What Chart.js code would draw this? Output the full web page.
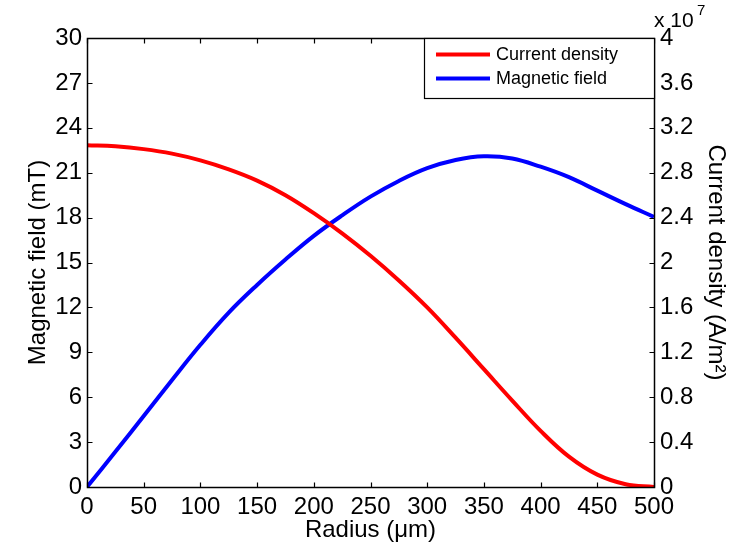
<!DOCTYPE html>
<html>
<head>
<meta charset="utf-8">
<title>Current density and magnetic field vs radius</title>
<script src="https://cdn.jsdelivr.net/npm/chart.js@4.4.1/dist/chart.umd.min.js"></script>
<style>
  html, body { margin: 0; padding: 0; background: #fff; }
</style>
</head>
<body>
<canvas id="fieldChart" width="735" height="542"></canvas>
<script>
// radius samples (um)
const radius = [0, 25, 50, 75, 100, 125, 150, 175, 200, 225, 250, 275, 300, 325, 350, 375, 400, 425, 450, 475, 500];
// current density, in units of 10^7 A/m^2
const currentDensity = [3.045, 3.035, 3.01, 2.97, 2.91, 2.83, 2.73, 2.60, 2.44, 2.26, 2.06, 1.84, 1.60, 1.33, 1.05, 0.77, 0.50, 0.27, 0.11, 0.025, 0];
// magnetic field (mT)
const magneticField = [0, 2.35, 4.75, 7.15, 9.5, 11.65, 13.5, 15.2, 16.78, 18.15, 19.4, 20.45, 21.3, 21.85, 22.1, 21.95, 21.4, 20.7, 19.8, 18.9, 18.05];

const radiusTicks = [0, 50, 100, 150, 200, 250, 300, 350, 400, 450, 500];
const fieldTicks = [0, 3, 6, 9, 12, 15, 18, 21, 24, 27, 30];
const densityTicks = [0, 0.4, 0.8, 1.2, 1.6, 2, 2.4, 2.8, 3.2, 3.6, 4];

const FONT = '"Liberation Sans", Arial, Helvetica, sans-serif';
const fixedTicks = list => scale => { scale.ticks = list.map(v => ({ value: v })); };

// box frame, inward tick marks, legend and the x10^7 exponent
const framePlugin = {
    id: 'frame',
    afterDraw(chart) {
        const ctx = chart.ctx;
        const a = chart.chartArea;
        const L = Math.round(a.left) + 0.5, R = Math.round(a.right) + 0.5;
        const T = Math.round(a.top) + 0.5, B = Math.round(a.bottom) + 0.5;
        const tick = 5;
        ctx.save();
        ctx.strokeStyle = '#000';
        ctx.lineWidth = 1.5;
        ctx.strokeRect(L, T, R - L, B - T);

        ctx.lineWidth = 1.2;
        ctx.beginPath();
        const sx = chart.scales.x;
        sx.ticks.forEach(t => {
            const px = Math.round(sx.getPixelForValue(t.value)) + 0.5;
            ctx.moveTo(px, B); ctx.lineTo(px, B - tick);
            ctx.moveTo(px, T); ctx.lineTo(px, T + tick);
        });
        const sy = chart.scales.y;
        sy.ticks.forEach(t => {
            const py = Math.round(sy.getPixelForValue(t.value)) + 0.5;
            ctx.moveTo(L, py); ctx.lineTo(L + tick, py);
        });
        const sy2 = chart.scales.y2;
        sy2.ticks.forEach(t => {
            const py = Math.round(sy2.getPixelForValue(t.value)) + 0.5;
            ctx.moveTo(R, py); ctx.lineTo(R - tick, py);
        });
        ctx.stroke();

        // legend box
        const lx = 424.5, ly = T, lw = R - lx, lh = 60;
        ctx.fillStyle = '#fff';
        ctx.fillRect(lx, ly, lw, lh);
        ctx.lineWidth = 1.2;
        ctx.strokeRect(lx, ly, lw, lh);
        ctx.font = '18px ' + FONT;
        ctx.textBaseline = 'middle';
        ctx.textAlign = 'left';
        chart.data.datasets.forEach((ds, i) => {
            const y = ly + 16 + i * 24;
            ctx.strokeStyle = ds.borderColor;
            ctx.lineWidth = 4;
            ctx.beginPath();
            ctx.moveTo(436, y); ctx.lineTo(490, y);
            ctx.stroke();
            ctx.fillStyle = '#000';
            ctx.fillText(ds.label, 496, y + 1);
        });

        // exponent of the right axis
        ctx.fillStyle = '#000';
        ctx.textBaseline = 'alphabetic';
        ctx.font = '21px ' + FONT;
        ctx.fillText('x 10', 654, 27);
        ctx.font = '15px ' + FONT;
        ctx.fillText('7', 697, 15);
        ctx.restore();
    }
};

const tickFont = { family: FONT, size: 24 };
const titleFont = { family: FONT, size: 24, lineHeight: 1 };

const chart = new Chart(document.getElementById('fieldChart'), {
    type: 'line',
    data: {
        datasets: [{
            label: 'Current density',
            data: radius.map((r, i) => ({ x: r, y: currentDensity[i] })),
            yAxisID: 'y2',
            borderColor: '#ff0000',
            borderWidth: 4,
            pointRadius: 0,
            tension: 0.4,
            fill: false
        }, {
            label: 'Magnetic field',
            data: radius.map((r, i) => ({ x: r, y: magneticField[i] })),
            yAxisID: 'y',
            borderColor: '#0000ff',
            borderWidth: 4,
            pointRadius: 0,
            tension: 0.4,
            fill: false
        }]
    },
    options: {
        responsive: false,
        animation: false,
        events: [],
        layout: { padding: { top: 38, left: 0, right: 0, bottom: 0 } },
        plugins: {
            legend: { display: false },
            title: { display: false },
            tooltip: { enabled: false }
        },
        scales: {
            x: {
                type: 'linear',
                position: 'bottom',
                min: 0,
                max: 500,
                afterBuildTicks: fixedTicks(radiusTicks),
                afterFit: s => { s.height = 55; },
                grid: { display: false, drawTicks: false },
                border: { display: false },
                ticks: { color: '#000', font: tickFont, padding: 6, maxRotation: 0, autoSkip: false },
                title: { display: true, text: 'Radius (μm)', color: '#000', font: titleFont, padding: { top: 0, bottom: 0 } }
            },
            y: {
                type: 'linear',
                position: 'left',
                min: 0,
                max: 30,
                afterBuildTicks: fixedTicks(fieldTicks),
                afterFit: s => { s.width = 87; },
                grid: { display: false, drawTicks: false },
                border: { display: false },
                ticks: { color: '#000', font: tickFont, padding: 5, autoSkip: false },
                title: { display: true, text: 'Magnetic field (mT)', color: '#000', font: titleFont, padding: { top: 26, bottom: 0 } }
            },
            y2: {
                type: 'linear',
                position: 'right',
                min: 0,
                max: 4,
                afterBuildTicks: fixedTicks(densityTicks),
                afterFit: s => { s.width = 81; },
                grid: { display: false, drawTicks: false },
                border: { display: false },
                ticks: {
                    color: '#000', font: tickFont, padding: 6, autoSkip: false,
                    callback: v => String(+v.toFixed(1))
                },
                title: { display: true, text: 'Current density (A/m²)', color: '#000', font: titleFont, padding: { top: 7, bottom: 0 } }
            }
        }
    },
    plugins: [framePlugin]
});
</script>
</body>
</html>
